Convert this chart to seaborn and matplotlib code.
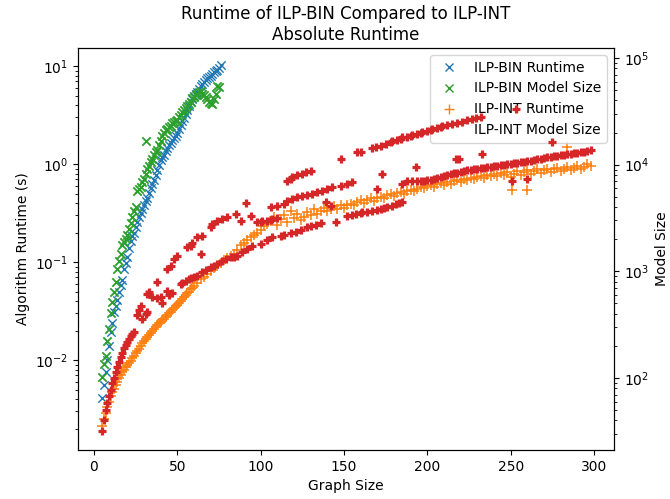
import matplotlib
matplotlib.use("Agg")
import matplotlib.pyplot as plt
from matplotlib.lines import Line2D
import seaborn as sns
import pandas as pd

BLUE, ORANGE, GREEN, RED = "#1f77b4", "#ff7f0e", "#2ca02c", "#d62728"

# ---------------- ILP-BIN runtime (s) ----------------
bin_rt_x = list(range(5, 77))
bin_rt_y = [0.0041, 0.0056, 0.0075, 0.0100, 0.0140, 0.0195, 0.024, 0.031, 0.036, 0.041,
            0.050, 0.058, 0.066, 0.085, 0.098, 0.112, 0.138, 0.165, 0.185, 0.200,
            0.228, 0.255, 0.285, 0.315, 0.350, 0.380, 0.415, 0.450, 0.510, 0.570,
            0.630, 0.690, 0.780, 0.870, 0.980, 1.10, 1.17, 1.24, 1.35, 1.46,
            1.55, 1.64, 1.74, 1.84, 1.95, 2.07, 2.28, 2.50, 2.72, 2.94,
            3.25, 3.56, 3.90, 4.30, 4.60, 4.94, 5.20, 5.43, 5.85, 6.25,
            6.55, 6.87, 7.20, 7.55, 7.70, 7.91, 8.30, 8.69, 8.90, 9.10,
            9.60, 10.2]

# ---------------- ILP-BIN model size ----------------
bin_ms_x = list(range(5, 76)) + [31]
bin_ms_y = [103, 134, 160, 220, 285, 403, 512, 635, 788, 1045,
            1242, 1445, 1755, 1870, 1995, 2180, 2480, 2824, 3210, 3656,
            3990, 5640, 5888, 6152, 6855, 7311, 8143, 9078, 9700, 10550,
            11270, 12270, 13100, 13700, 15300, 16600, 18530, 19800, 21100, 21540,
            22500, 23000, 24500, 25060, 25640, 26200, 28000, 29300, 31200, 32600,
            34100, 35400, 37100, 38700, 42200, 43100, 45000, 46000, 48000, 49000,
            46000, 45000, 43100, 41200, 38700, 37800, 37100, 41200, 46000, 54600,
            53300, 16600]

# ---------------- ILP-INT runtime (s) ----------------
int_rt_x = list(range(5, 61)) + list(range(62, 299, 2)) + [251, 260, 284]
int_rt_y = [0.0021, 0.0025, 0.0029, 0.0033, 0.0037, 0.0043, 0.0047, 0.0051, 0.0055, 0.0060,
            0.0065, 0.0070, 0.0075, 0.0080, 0.0085, 0.0089, 0.0093, 0.0098, 0.0104, 0.0110,
            0.0117, 0.0124, 0.0131, 0.0139, 0.0148, 0.0157, 0.0165, 0.0172, 0.0180, 0.0190,
            0.0199, 0.0208, 0.0218, 0.0226, 0.0236, 0.0246, 0.0254, 0.0263, 0.0275, 0.0287,
            0.0300, 0.0312, 0.0325, 0.0340, 0.0355, 0.0368, 0.0382, 0.0398, 0.0420, 0.0440,
            0.0462, 0.0480, 0.0500, 0.0525, 0.0545, 0.0565,
            0.061, 0.067, 0.071, 0.076, 0.081, 0.086, 0.091, 0.098, 0.104, 0.109,
            0.115, 0.122, 0.132, 0.150, 0.158, 0.168, 0.180, 0.190, 0.200, 0.214,
            0.232, 0.245, 0.262, 0.290, 0.240, 0.275, 0.300, 0.255, 0.330, 0.280,
            0.310, 0.270, 0.290, 0.325, 0.300, 0.350, 0.310, 0.330, 0.360, 0.335,
            0.345, 0.370, 0.345, 0.380, 0.360, 0.385, 0.395, 0.380, 0.410, 0.425,
            0.400, 0.430, 0.445, 0.420, 0.450, 0.465, 0.450, 0.480, 0.490, 0.475,
            0.505, 0.520, 0.500, 0.530, 0.545, 0.530, 0.560, 0.580, 0.565, 0.600,
            0.610, 0.585, 0.625, 0.640, 0.615, 0.650, 0.630, 0.665, 0.690, 0.650,
            0.700, 0.680, 0.720, 0.700, 0.740, 0.760, 0.720, 0.770, 0.750, 0.790,
            0.760, 0.810, 0.780, 0.830, 0.740, 0.800, 0.850, 0.780, 0.820, 0.870,
            0.800, 0.840, 0.890, 0.810, 0.860, 0.900, 0.830, 0.880, 0.920, 0.840,
            0.900, 0.940, 0.860, 0.920, 0.960, 0.880, 0.940, 1.000, 0.960,
            0.54, 0.54, 1.50]

# ---------------- ILP-INT model size (several families) ----------------
int_ms_start_x = [5, 6, 7, 8, 9, 10, 11, 12, 13, 14, 15, 16, 17, 18, 19, 20, 21, 22, 23, 24,
                  26, 27, 28, 29, 31, 32, 32, 33, 35, 38, 38, 40, 41, 44, 45, 47]
int_ms_start_y = [32, 40, 50, 58, 68, 78, 90, 100, 115, 128, 142, 158, 172, 190, 205, 218, 230, 245, 258, 270,
                  390, 430, 470, 355, 400, 420, 610, 640, 580, 790, 560, 570, 500, 650, 600, 630]

int_ms_upper_left_x = [44, 46, 48, 50, 56, 58, 59, 62, 64, 65, 70, 71, 74, 77, 80, 85, 88, 94,
                       98, 100, 101, 104, 106, 107, 110]
int_ms_upper_left_y = [1045, 1120, 1297, 1383, 1680, 1718, 1850, 2083, 1445, 2150, 2588, 2760, 2946,
                       3076, 3200, 3428, 2946, 3281, 2884, 2900, 2946, 2950, 3010, 3076, 3150]

int_ms_lower_x = [52, 53, 55, 57, 58, 60, 62, 65, 67, 70, 72, 74, 77, 79, 82, 84, 86, 89, 92, 95,
                  100, 104, 107, 112, 114, 118, 121, 124, 128, 130, 133, 136, 145,
                  152, 155, 157, 160, 161, 164, 167, 170, 172, 174, 176, 179, 181, 183, 185]
int_ms_lower_y = [760, 780, 810, 850, 870, 885, 897, 980, 1030, 1091, 1130, 1164, 1242, 1300, 1353,
                  1370, 1383, 1507, 1610, 1718, 1794, 1950, 2083, 2131, 2200, 2275, 2350, 2427,
                  2588, 2650, 2703, 2824, 2884,
                  3281, 3350, 3428, 3500, 3581, 3600, 3656, 3750, 3819, 3900, 3990, 4100,
                  4256, 4350, 4446]

int_ms_middle_x = [91, 106, 110, 114, 116, 119, 122, 125, 128, 131, 134, 137, 140, 143, 148, 152,
                   155, 170, 185, 188, 191, 139, 142]
int_ms_middle_y = [4345, 3990, 4074, 4300, 4540, 4742, 4955, 5058, 5170, 5284, 5520, 5636, 5888,
                   6152, 6281, 6561, 6855, 5888, 6561, 6998, 6998, 4446, 4074]

int_ms_top_x = [116, 118, 119, 122, 125, 127, 130, 148, 158, 160, 167, 169, 172, 175, 178, 179,
                182, 184, 185, 188, 190, 191, 194, 196, 197, 200, 202, 203, 206, 208, 209, 212,
                215, 218, 221, 224, 227, 229, 232, 253]
int_ms_top_y = [7000, 7311, 7638, 7967, 8143, 8507, 8689, 11270, 13100, 13100, 14290, 14600, 14930,
                15600, 16260, 16600, 17000, 17400, 18120, 18120, 18530, 18900, 19330, 19800,
                20190, 20640, 21100, 21540, 22000, 22500, 23000, 23500, 23990, 24500, 25060,
                26200, 26750, 27330, 28000, 33200]

int_ms_band_x = list(range(194, 299, 2)) + [173, 193, 217, 219, 233, 275, 251, 260]
int_ms_band_y = [6980, 7000, 7080, 7150, 7230, 7311, 7470, 7638, 7800, 7967,
                 8140, 8320, 8410, 8507, 8690, 8880, 8980, 9078, 9180, 9280,
                 9380, 9484, 9590, 9700, 9800, 9900, 10000, 10115, 10220, 10330,
                 10440, 10550, 10660, 10780, 10900, 11020, 11200, 11400, 11570, 11750,
                 11870, 12000, 12130, 12270, 12410, 12560, 12700, 12830, 12960, 13100,
                 13250, 13400, 13700,
                 8143, 9484, 11270, 11270, 12560, 16260, 6998, 7311]

int_ms_x = (int_ms_start_x + int_ms_upper_left_x + int_ms_lower_x + int_ms_middle_x
            + int_ms_top_x + int_ms_band_x)
int_ms_y = (int_ms_start_y + int_ms_upper_left_y + int_ms_lower_y + int_ms_middle_y
            + int_ms_top_y + int_ms_band_y)

legend_labels = ["ILP-BIN Runtime", "ILP-BIN Model Size", "ILP-INT Runtime", "ILP-INT Model Size"]

df_bin_rt = pd.DataFrame({"x": bin_rt_x, "y": bin_rt_y})
df_bin_ms = pd.DataFrame({"x": bin_ms_x, "y": bin_ms_y})
df_int_rt = pd.DataFrame({"x": int_rt_x, "y": int_rt_y})
df_int_ms = pd.DataFrame({"x": int_ms_x, "y": int_ms_y})

fig = plt.figure(figsize=(6.7, 4.99), dpi=100)
ax = fig.add_axes([78 / 670, 49 / 499, 536 / 670, 402 / 499])
ax2 = ax.twinx()

sns.scatterplot(data=df_bin_rt, x="x", y="y", ax=ax, marker="x", color=BLUE,
                s=36, linewidth=1.0, legend=False)
sns.scatterplot(data=df_int_rt, x="x", y="y", ax=ax, marker="+", color=ORANGE,
                s=50, linewidth=1.1, legend=False)
sns.scatterplot(data=df_bin_ms, x="x", y="y", ax=ax2, marker="x", color=GREEN,
                s=36, linewidth=1.3, legend=False)
sns.scatterplot(data=df_int_ms, x="x", y="y", ax=ax2, marker="+", color=RED,
                s=40, linewidth=2.3, legend=False)

ax.set_yscale("log")
ax2.set_yscale("log")
ax.set_xlim(-9.6, 312)
ax.set_ylim(10 ** -2.918, 10 ** 1.184)
ax2.set_ylim(10 ** 1.325, 10 ** 5.094)

ax.set_xlabel("Graph Size")
ax.set_ylabel("Algorithm Runtime (s)")
ax2.set_ylabel("Model Size")
ax.set_title("Runtime of ILP-BIN Compared to ILP-INT\nAbsolute Runtime", fontsize=12)

handles = [
    Line2D([], [], linestyle="none", marker="x", color=BLUE, markersize=6),
    Line2D([], [], linestyle="none", marker="x", color=GREEN, markersize=6),
    Line2D([], [], linestyle="none", marker="+", color=ORANGE, markersize=7),
    Line2D([], [], linestyle="none", marker="", color=RED),
]
ax.legend(handles, legend_labels, loc="upper right")

fig.savefig("out.png", dpi=100)
